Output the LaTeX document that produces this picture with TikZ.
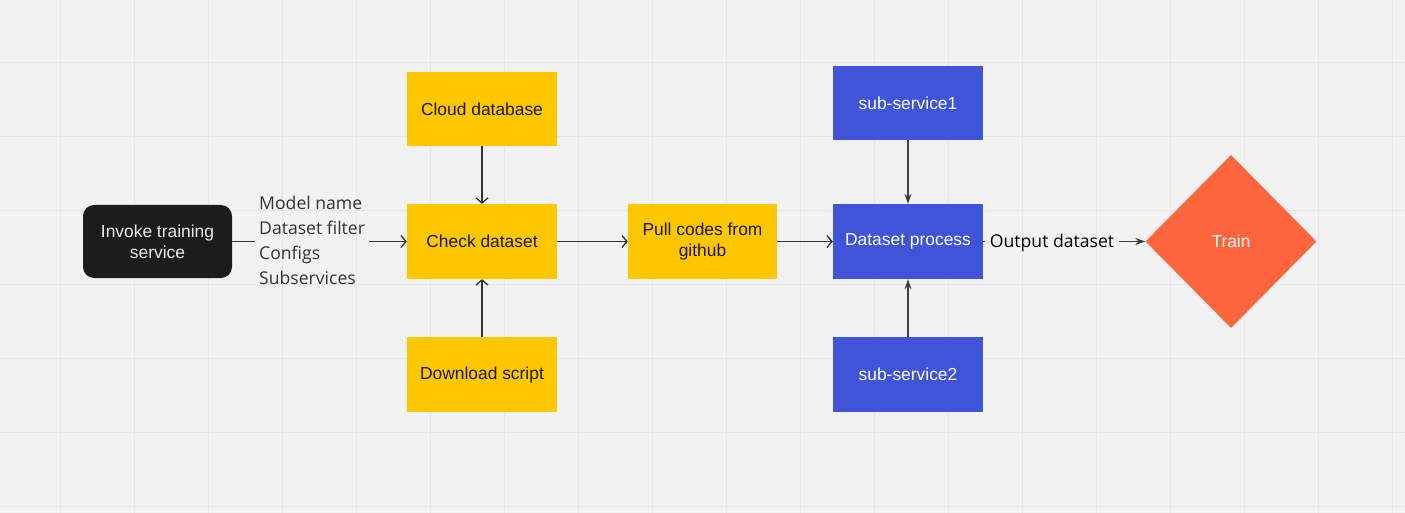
\documentclass[tikz,border=0pt]{standalone}
\usepackage{fontspec}
\setmainfont{Liberation Sans}
\newfontfamily\labelfont{Open Sans}
\usetikzlibrary{arrows.meta}
\usetikzlibrary{shapes.geometric}

\definecolor{boardbg}{HTML}{F2F2F2}
\definecolor{gridline}{HTML}{E6E6E6}
\definecolor{stepyellow}{HTML}{FFC700}
\definecolor{stepblue}{HTML}{4054DA}
\definecolor{trainorange}{HTML}{FF653D}
\definecolor{darkbox}{HTML}{1C1C1C}
\definecolor{linkgray}{HTML}{333333}

\tikzset{
  box/.style={minimum width=150pt, minimum height=75pt, inner sep=4pt,
    align=center, font=\fontsize{17.4}{21}\selectfont},
  yellowbox/.style={box, fill=stepyellow, text=black!90},
  bluebox/.style={box, fill=stepblue, text=white},
  flow/.style={-{Straight Barb[length=5pt,width=12pt]}, draw=linkgray, line width=1.3pt},
  feed/.style={-{Stealth[length=10pt,width=7pt]}, draw=black!75, line width=1.1pt},
  plainlabel/.style={font=\labelfont\fontsize{17.6}{25}\selectfont, inner xsep=4pt, inner ysep=0pt},
}

\begin{document}
\begin{tikzpicture}[x=1pt, y=-1pt]
  \fill[boardbg] (0,0) rectangle (1405,513);
  \useasboundingbox (0,0) rectangle (1405,513);
  % board grid
  \foreach \gx in {60.5,134.5,...,1400}
    \draw[gridline, line width=1.4pt] (\gx,0) -- (\gx,513);
  \foreach \gy in {62.5,136.5,...,510}
    \draw[gridline, line width=1.4pt] (0,\gy) -- (1405,\gy);

  \node[box, fill=darkbox, text=white!92!black, rounded corners=11pt,
    minimum width=149pt, minimum height=73pt] (invoke) at (157.5,241.5)
    {Invoke training\\service};
  \node[plainlabel, anchor=west, align=left, text=linkgray] (params) at (255,240)
    {Model name\\Dataset filter\\Configs\\Subservices};

  \node[yellowbox] (check) at (482,241.5) {Check dataset};
  \node[yellowbox, minimum height=74pt] (cloud) at (482,109) {Cloud database};
  \node[yellowbox] (download) at (482,374.5) {Download script};
  \node[yellowbox, minimum width=149pt] (pull) at (702.5,241.5) {Pull codes from\\github};

  \node[bluebox] (process) at (908,241.5) {Dataset process};
  \node[bluebox, minimum height=74pt] (sub1) at (908,103) {sub-service1};
  \node[bluebox] (sub2) at (908,374.5) {sub-service2};

  \node[plainlabel, text=black, inner xsep=5pt] (output) at (1052,243) {Output dataset};
  \node[diamond, fill=trainorange, text=white, minimum width=171pt, minimum height=173pt,
    inner sep=0pt, font=\fontsize{17.4}{21}\selectfont] (train) at (1231,241.5) {Train};

  \draw[linkgray, line width=1.3pt] (invoke.east) -- (invoke.east -| params.west);
  \draw[flow] (check.west -| params.east) -- (check.west);
  \draw[flow] (cloud.south) -- (check.north);
  \draw[flow] (download.north) -- (check.south);
  \draw[flow] (check.east) -- (pull.west);
  \draw[flow] (pull.east) -- (process.west);
  \draw[feed] (sub1.south) -- (process.north);
  \draw[feed] (sub2.north) -- (process.south);
  \draw[black!75, line width=1.1pt] (process.east) -- (process.east -| output.west);
  \draw[feed] (train.west -| output.east) -- (train.west);
\end{tikzpicture}
\end{document}
